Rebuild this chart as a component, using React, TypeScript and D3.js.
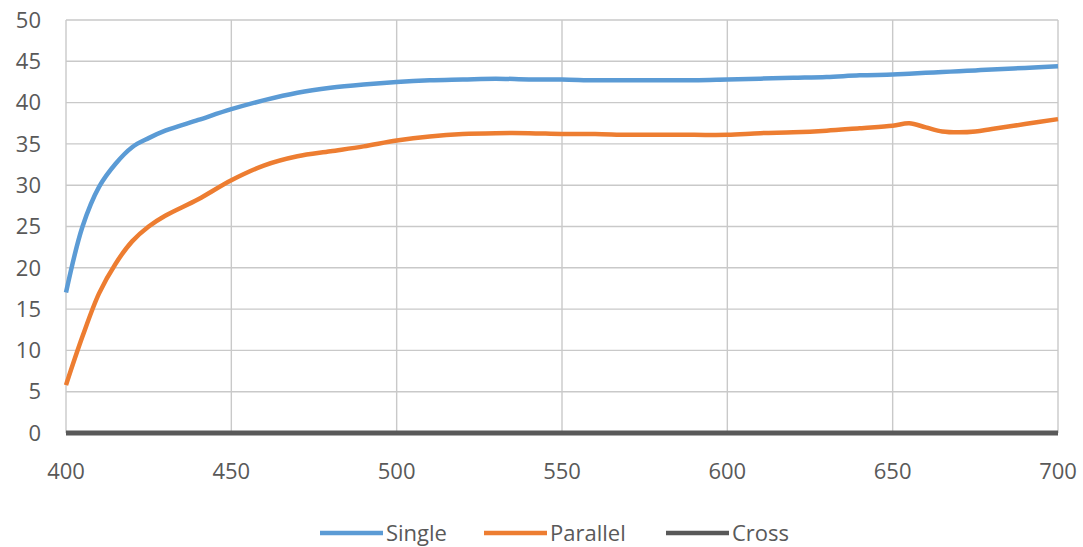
import { useEffect, useRef } from "react";
import * as d3 from "d3";

const wavelengths = [
  400, 405, 410, 415, 420, 425, 430, 440, 450, 460, 470, 480, 490, 500, 510,
  520, 530, 540, 550, 560, 570, 580, 590, 600, 610, 620, 630, 640, 650, 655,
  660, 665, 670, 675, 680, 690, 700,
];
const single = [
  17, 25, 29.8, 32.6, 34.6, 35.7, 36.6, 37.9, 39.2, 40.3, 41.2, 41.8, 42.2,
  42.5, 42.7, 42.8, 42.9, 42.8, 42.8, 42.7, 42.7, 42.7, 42.7, 42.8, 42.9, 43.0,
  43.1, 43.3, 43.4, 43.5, 43.6, 43.7, 43.8, 43.9, 44.0, 44.2, 44.4,
];
const parallel = [
  5.8, 11.7, 16.9, 20.5, 23.2, 25, 26.3, 28.3, 30.6, 32.4, 33.5, 34.1, 34.7,
  35.4, 35.9, 36.2, 36.3, 36.3, 36.2, 36.2, 36.1, 36.1, 36.1, 36.1, 36.3, 36.4,
  36.6, 36.9, 37.2, 37.5, 37.0, 36.5, 36.4, 36.5, 36.8, 37.4, 38.0,
];
const cross = wavelengths.map(() => 0);

const xTicks = [400, 450, 500, 550, 600, 650, 700];
const yTicks = [0, 5, 10, 15, 20, 25, 30, 35, 40, 45, 50];

const series = [
  { name: "Single", values: single, color: "#5B9BD5" },
  { name: "Parallel", values: parallel, color: "#ED7D31" },
  { name: "Cross", values: cross, color: "#595959" },
];

export default function App() {
  const svgRef = useRef<SVGSVGElement>(null);

  useEffect(() => {
    if (!svgRef.current) return;
    const svg = d3.select(svgRef.current);
    svg.selectAll("*").remove();

    const left = 66;
    const right = 1058;
    const top = 20;
    const bottom = 433;
    const font = "'Open Sans', 'Segoe UI', sans-serif";

    const x = d3.scaleLinear().domain([400, 700]).range([left, right]);
    const y = d3.scaleLinear().domain([0, 50]).range([bottom, top]);

    // grid
    svg
      .append("g")
      .selectAll("line.h")
      .data(yTicks)
      .enter()
      .append("line")
      .attr("x1", left)
      .attr("x2", right)
      .attr("y1", (d) => y(d))
      .attr("y2", (d) => y(d))
      .attr("stroke", "#c9c9c9")
      .attr("stroke-width", 1.4);

    svg
      .append("g")
      .selectAll("line.v")
      .data(xTicks)
      .enter()
      .append("line")
      .attr("x1", (d) => x(d))
      .attr("x2", (d) => x(d))
      .attr("y1", top)
      .attr("y2", bottom)
      .attr("stroke", "#c9c9c9")
      .attr("stroke-width", 1.4);

    // tick labels
    svg
      .append("g")
      .selectAll("text")
      .data(yTicks)
      .enter()
      .append("text")
      .attr("x", 41)
      .attr("y", (d) => y(d))
      .attr("dy", "0.35em")
      .attr("text-anchor", "end")
      .attr("font-family", font)
      .attr("font-size", 22)
      .attr("fill", "#595959")
      .text((d) => d);

    svg
      .append("g")
      .selectAll("text")
      .data(xTicks)
      .enter()
      .append("text")
      .attr("x", (d) => x(d))
      .attr("y", 471)
      .attr("dy", "0.35em")
      .attr("text-anchor", "middle")
      .attr("font-family", font)
      .attr("font-size", 22)
      .attr("fill", "#595959")
      .text((d) => d);

    const line = d3
      .line<number>()
      .x((_, i) => x(wavelengths[i]))
      .y((d) => y(d))
      .curve(d3.curveCatmullRom.alpha(0.5));

    // cross first so it sits on the axis
    [...series].reverse().forEach((s) => {
      svg
        .append("path")
        .datum(s.values)
        .attr("fill", "none")
        .attr("stroke", s.color)
        .attr("stroke-width", s.name === "Cross" ? 5 : 4.5)
        .attr("stroke-linejoin", "round")
        .attr("d", line);
    });

    // legend
    const legendX = [320, 484, 666];
    const legendY = 533;
    const lg = svg
      .append("g")
      .selectAll("g")
      .data(series)
      .enter()
      .append("g")
      .attr("transform", (_, i) => "translate(" + legendX[i] + "," + legendY + ")");
    lg.append("line")
      .attr("x1", 0)
      .attr("x2", 63)
      .attr("stroke", (d) => d.color)
      .attr("stroke-width", 4.5);
    lg.append("text")
      .attr("x", 66)
      .attr("dy", "0.35em")
      .attr("font-family", font)
      .attr("font-size", 22)
      .attr("fill", "#595959")
      .text((d) => d.name);
  }, []);

  return (
    <svg
      ref={svgRef}
      width={1083}
      height={547}
      style={{ position: "absolute", left: 0, top: 0, background: "#fff" }}
    />
  );
}
